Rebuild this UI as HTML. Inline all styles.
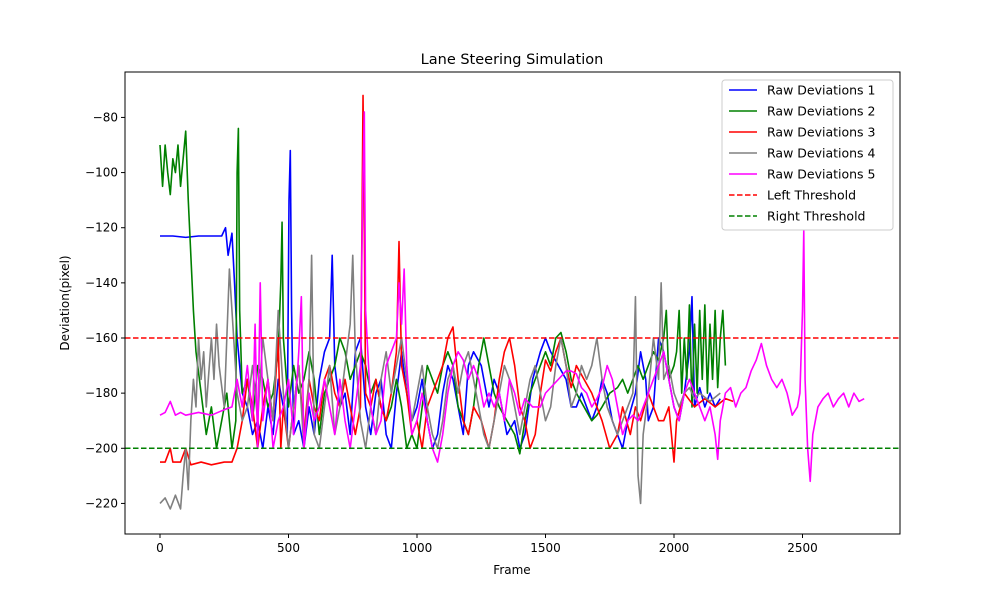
<!DOCTYPE html>
<html><head><meta charset="utf-8"><style>
body{margin:0;background:#fff;}
svg{display:block;font-family:"DejaVu Sans","Liberation Sans",sans-serif;}
</style></head><body>
<svg id="chart" width="1000" height="600">
<rect x="0" y="0" width="1000" height="600" fill="#fff"/>
<g id="marks"></g>
<g id="axes"></g>
</svg>
<script>
const xTicks=[0,500,1000,1500,2000,2500];
const yTicks=[-80,-100,-120,-140,-160,-180,-200,-220];
const leftThreshold=-160, rightThreshold=-200;
const seriesNames=["Raw Deviations 1","Raw Deviations 2","Raw Deviations 3","Raw Deviations 4","Raw Deviations 5"];
const seriesColors=["#0000ff","#008000","#ff0000","#808080","#ff00ff"];
const s1=[[0,-123],[50,-123],[100,-123.5],[150,-123],[200,-123],[240,-123],[255,-120],[265,-130],[280,-122],[290,-140],[300,-160],[320,-180],[340,-185],[360,-195],[380,-190],[400,-200],[420,-185],[440,-195],[460,-175],[480,-185],[495,-195],[502,-110],[507,-92],[512,-150],[520,-195],[540,-190],[560,-200],[580,-185],[600,-195],[620,-175],[640,-165],[660,-160],[670,-130],[680,-170],[700,-185],[720,-180],[740,-195],[760,-165],[780,-160],[800,-185],[820,-195],[840,-180],[860,-175],[880,-195],[900,-200],[920,-180],[940,-165],[960,-180],[980,-190],[1000,-185],[1020,-175],[1040,-190],[1060,-200],[1080,-195],[1100,-180],[1120,-170],[1140,-175],[1160,-185],[1180,-195],[1200,-170],[1220,-165],[1250,-170],[1280,-185],[1300,-175],[1320,-180],[1350,-195],[1380,-190],[1400,-200],[1420,-195],[1450,-175],[1480,-165],[1500,-160],[1520,-165],[1550,-170],[1580,-175],[1600,-185],[1620,-185],[1640,-180],[1660,-185],[1680,-190],[1700,-185],[1720,-175],[1740,-180],[1760,-190],[1780,-195],[1800,-200],[1820,-190],[1850,-180],[1870,-165],[1890,-175],[1900,-190],[1920,-185],[1940,-160],[1960,-165],[1980,-175],[2000,-185],[2020,-190],[2040,-180],[2060,-165],[2070,-145],[2080,-185],[2100,-178],[2120,-185],[2140,-180],[2160,-185],[2180,-182]];
const s2=[[0,-90],[10,-105],[20,-90],[30,-100],[40,-108],[50,-95],[60,-100],[70,-90],[80,-105],[90,-95],[100,-85],[110,-110],[120,-130],[130,-150],[140,-165],[160,-180],[180,-195],[200,-185],[220,-200],[240,-190],[260,-180],[280,-200],[295,-190],[300,-100],[305,-84],[310,-150],[320,-180],[340,-175],[360,-190],[380,-170],[400,-175],[420,-185],[440,-180],[460,-165],[470,-140],[475,-118],[480,-160],[500,-185],[520,-170],[540,-180],[560,-175],[580,-165],[600,-175],[620,-195],[640,-180],[660,-175],[680,-170],[700,-160],[720,-165],[740,-175],[760,-170],[780,-165],[800,-170],[820,-180],[840,-175],[860,-185],[880,-190],[900,-185],[920,-175],[940,-185],[960,-200],[980,-195],[1000,-200],[1020,-185],[1040,-170],[1060,-175],[1080,-180],[1100,-170],[1120,-165],[1140,-170],[1160,-185],[1180,-190],[1200,-195],[1220,-185],[1240,-170],[1260,-160],[1280,-170],[1300,-180],[1320,-185],[1350,-190],[1380,-195],[1400,-202],[1420,-190],[1440,-180],[1460,-175],[1480,-170],[1500,-165],[1520,-170],[1540,-160],[1560,-158],[1580,-165],[1600,-175],[1620,-180],[1650,-185],[1680,-190],[1700,-188],[1720,-185],[1750,-180],[1780,-178],[1800,-175],[1820,-180],[1840,-175],[1860,-170],[1880,-175],[1900,-170],[1920,-165],[1940,-168],[1960,-160],[1970,-150],[1980,-175],[2000,-170],[2010,-165],[2020,-150],[2030,-180],[2040,-160],[2050,-175],[2060,-148],[2070,-185],[2080,-155],[2090,-180],[2100,-150],[2110,-175],[2120,-148],[2130,-180],[2140,-155],[2150,-175],[2160,-150],[2170,-178],[2180,-160],[2190,-150],[2200,-170]];
const s3=[[0,-205],[20,-205],[40,-200],[50,-205],[80,-205],[100,-200],[120,-206],[160,-205],[200,-206],[250,-205],[280,-205],[300,-200],[320,-190],[340,-175],[360,-185],[380,-200],[400,-185],[420,-175],[440,-190],[460,-160],[470,-200],[480,-185],[500,-200],[520,-185],[540,-170],[560,-195],[580,-175],[600,-185],[620,-190],[640,-175],[660,-170],[680,-180],[700,-185],[720,-175],[740,-185],[760,-195],[780,-185],[790,-72],[795,-120],[800,-180],[820,-185],[840,-175],[860,-185],[880,-190],[900,-180],[920,-165],[930,-125],[940,-170],[960,-180],[980,-195],[1000,-190],[1020,-200],[1040,-185],[1060,-180],[1080,-175],[1100,-170],[1120,-160],[1140,-156],[1160,-175],[1180,-190],[1200,-195],[1220,-185],[1250,-190],[1280,-200],[1300,-190],[1320,-175],[1340,-165],[1360,-160],[1380,-170],[1400,-185],[1420,-190],[1440,-200],[1460,-195],[1480,-180],[1500,-168],[1520,-172],[1540,-165],[1560,-160],[1580,-170],[1600,-178],[1620,-170],[1650,-175],[1680,-180],[1700,-185],[1720,-190],[1750,-200],[1780,-195],[1800,-185],[1830,-195],[1850,-185],[1870,-190],[1900,-180],[1920,-185],[1940,-190],[1960,-190],[1980,-185],[2000,-205],[2010,-190],[2040,-180],[2080,-185],[2120,-182],[2160,-185],[2200,-182],[2230,-183]];
const s4=[[0,-220],[20,-218],[40,-222],[60,-217],[80,-222],[90,-210],[100,-200],[110,-215],[120,-190],[130,-175],[140,-185],[150,-160],[160,-175],[170,-165],[180,-185],[200,-160],[210,-175],[220,-155],[230,-170],[250,-185],[270,-135],[280,-150],[300,-180],[320,-190],[340,-185],[360,-170],[380,-190],[400,-160],[420,-175],[440,-190],[460,-150],[480,-180],[500,-200],[520,-185],[540,-170],[560,-200],[580,-175],[590,-130],[600,-195],[620,-200],[640,-185],[660,-170],[680,-195],[700,-185],[720,-170],[740,-155],[750,-130],[760,-165],[780,-190],[800,-200],[820,-185],[840,-195],[860,-175],[880,-165],[900,-180],[920,-170],[940,-160],[960,-175],[980,-190],[1000,-180],[1020,-170],[1040,-185],[1060,-195],[1080,-200],[1100,-190],[1120,-175],[1140,-170],[1160,-180],[1180,-170],[1200,-165],[1220,-175],[1240,-185],[1260,-195],[1280,-200],[1300,-190],[1320,-180],[1340,-170],[1360,-175],[1380,-185],[1400,-195],[1420,-185],[1440,-175],[1460,-170],[1480,-180],[1500,-190],[1520,-185],[1540,-170],[1560,-160],[1580,-170],[1600,-185],[1620,-180],[1640,-170],[1660,-175],[1680,-170],[1700,-160],[1720,-175],[1740,-185],[1760,-190],[1780,-195],[1800,-190],[1820,-185],[1840,-180],[1850,-145],[1860,-210],[1870,-220],[1880,-195],[1900,-180],[1920,-160],[1940,-175],[1950,-140],[1960,-175],[1980,-170],[2000,-180],[2020,-185],[2040,-180],[2060,-178],[2080,-182],[2100,-180],[2140,-183],[2180,-180]];
const s5=[[0,-188],[20,-187],[40,-183],[60,-188],[80,-187],[100,-188],[150,-187],[200,-188],[250,-186],[280,-185],[300,-175],[320,-185],[340,-170],[360,-190],[370,-155],[380,-200],[390,-140],[400,-190],[420,-175],[440,-200],[460,-190],[480,-185],[500,-175],[520,-195],[540,-165],[550,-145],[560,-200],[580,-180],[600,-190],[620,-185],[640,-175],[660,-185],[680,-195],[700,-175],[720,-190],[740,-200],[760,-185],[780,-170],[790,-100],[795,-78],[800,-150],[820,-185],[840,-195],[860,-190],[880,-170],[900,-165],[920,-160],[930,-140],[940,-155],[950,-135],[960,-170],[980,-195],[1000,-190],[1020,-180],[1040,-190],[1060,-200],[1080,-205],[1100,-195],[1120,-180],[1140,-170],[1160,-165],[1180,-168],[1200,-175],[1220,-170],[1240,-175],[1260,-185],[1280,-180],[1300,-185],[1320,-180],[1340,-190],[1360,-175],[1380,-180],[1400,-188],[1420,-182],[1450,-185],[1480,-185],[1500,-180],[1520,-178],[1550,-175],[1580,-172],[1600,-172],[1620,-173],[1640,-178],[1660,-180],[1680,-185],[1700,-182],[1720,-178],[1740,-170],[1760,-175],[1780,-185],[1800,-195],[1820,-190],[1840,-188],[1860,-190],[1880,-185],[1900,-180],[1920,-175],[1940,-170],[1960,-165],[1980,-175],[2000,-185],[2020,-190],[2040,-180],[2060,-175],[2080,-180],[2100,-185],[2120,-190],[2140,-185],[2160,-195],[2170,-204],[2180,-190],[2200,-180],[2220,-178],[2240,-185],[2260,-180],[2280,-178],[2300,-172],[2320,-168],[2340,-162],[2360,-170],[2380,-175],[2400,-178],[2420,-175],[2440,-180],[2460,-188],[2480,-185],[2490,-180],[2500,-150],[2505,-121],[2510,-175],[2520,-200],[2530,-212],[2540,-195],[2560,-185],[2580,-182],[2600,-180],[2620,-185],[2640,-182],[2660,-180],[2680,-185],[2700,-180],[2720,-183],[2740,-182]];
const allSeries=[s1,s2,s3,s4,s5];

const NS="http://www.w3.org/2000/svg";
const L=125,R=900,T=72,B=534;
function xs(v){return 160+(v-0)*(128.5/500);}
function ys(v){return 338+(-160-v)*(386/140);}
function mk(tag,attrs,parent){const e=document.createElementNS(NS,tag);for(const k in attrs)e.setAttribute(k,attrs[k]);parent.appendChild(e);return e;}
const marks=document.getElementById('marks'), axes=document.getElementById('axes');

allSeries.forEach((s,i)=>{
  const p=mk('path',{d:s.map((pt,j)=>(j?'L':'M')+xs(pt[0]).toFixed(2)+','+ys(pt[1]).toFixed(2)).join(''),fill:'none',stroke:seriesColors[i],'stroke-width':1.6,'stroke-linejoin':'round'},marks);
  
  
});
const lt=mk('line',{x1:L,x2:R,y1:ys(leftThreshold),y2:ys(leftThreshold),stroke:'#ff0000','stroke-width':1.5,'stroke-dasharray':'5.5,2.5'},marks);


const rt=mk('line',{x1:L,x2:R,y1:ys(rightThreshold),y2:ys(rightThreshold),stroke:'#008000','stroke-width':1.5,'stroke-dasharray':'5.5,2.5'},marks);



const frame=mk('rect',{x:L,y:T,width:R-L,height:B-T,fill:'none',stroke:'#000','stroke-width':1},axes);


xTicks.forEach(t=>{
  const x=xs(t);
  mk('line',{x1:x,x2:x,y1:B,y2:B+4,stroke:'#000'},axes);
  const tx=mk('text',{x:x,y:B+18,'text-anchor':'middle','font-size':12},axes);tx.textContent=t;
  
  
});
yTicks.forEach(t=>{
  const y=ys(t);
  mk('line',{x1:L-4,x2:L,y1:y,y2:y,stroke:'#000'},axes);
  const tx=mk('text',{x:L-7,y:y+4,'text-anchor':'end','font-size':12},axes);tx.textContent='\u2212'+Math.abs(t);
  
  
});
const title=mk('text',{x:512,y:64,'text-anchor':'middle','font-size':14.5},axes);title.textContent='Lane Steering Simulation';


const xl=mk('text',{x:512,y:574,'text-anchor':'middle','font-size':12},axes);xl.textContent='Frame';


const yl=mk('text',{x:0,y:0,'text-anchor':'middle','font-size':12,transform:'translate(69,303) rotate(-90)'},axes);yl.textContent='Deviation(pixel)';



const lg=mk('g',{},axes);


mk('rect',{x:722,y:80,width:171,height:150,rx:3,fill:'#fff','fill-opacity':0.8,stroke:'#ccc'},lg);
const legNames=seriesNames.concat(["Left Threshold","Right Threshold"]);
const legColors=seriesColors.concat(["#ff0000","#008000"]);
legNames.forEach((n,i)=>{
  const y=90+i*21;
  const ln=mk('line',{x1:729,x2:757,y1:y,y2:y,stroke:legColors[i],'stroke-width':1.6},lg);
  if(i>=5) ln.setAttribute('stroke-dasharray','5.5,2.5');
  const tx=mk('text',{x:767,y:y+4.5,'font-size':12.5},lg);tx.textContent=n;
  
  
});
</script>
</body></html>
